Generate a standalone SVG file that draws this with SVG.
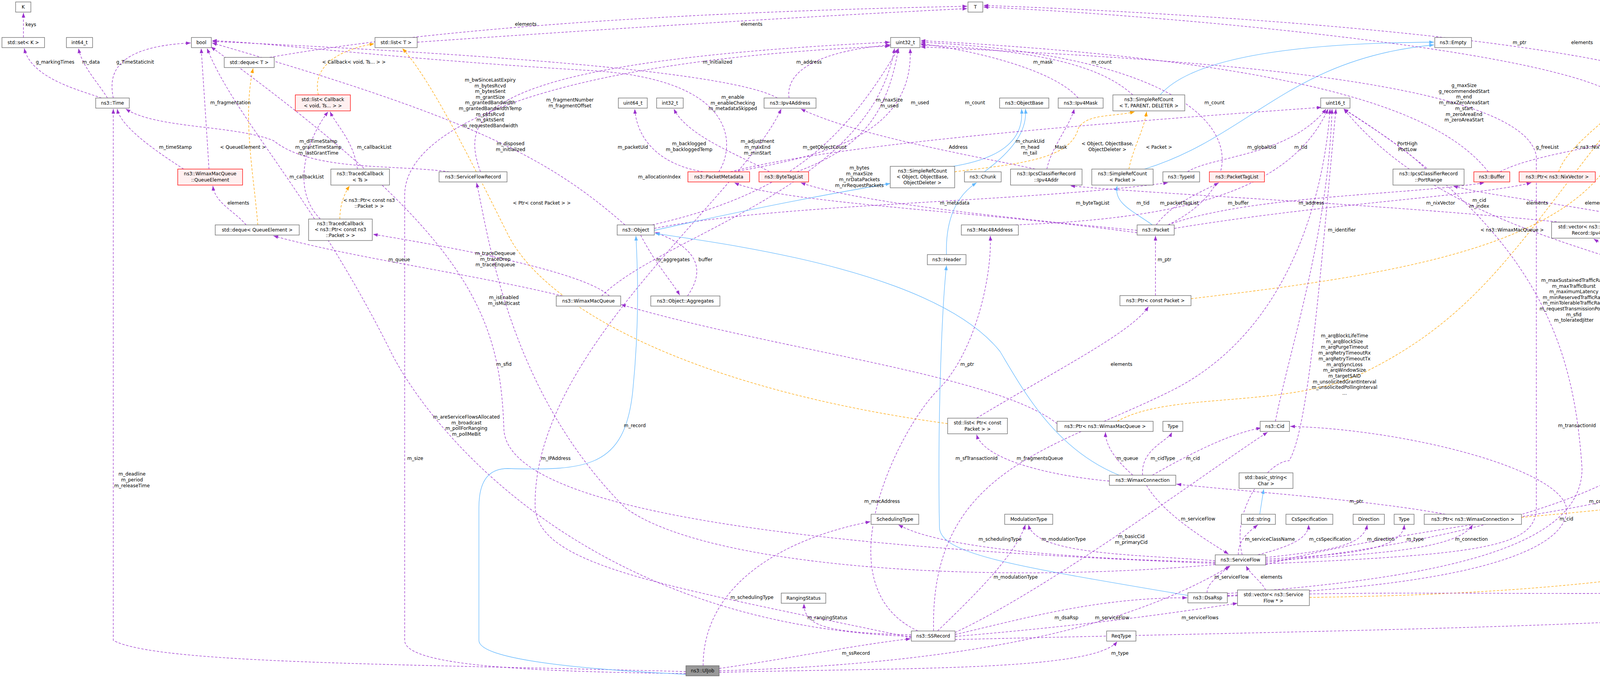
<svg xmlns="http://www.w3.org/2000/svg" width="5153" height="1739" viewBox="0 0 5153 1739">
<style>
text{font-family:"DejaVu Sans","Liberation Sans",sans-serif;font-size:12px;fill:#000;text-anchor:middle}
.node rect{fill:#fff;stroke:#666;stroke-width:1.3}
.red rect{fill:#fff0f0;stroke:#f00}
.grey rect{fill:#999;stroke:#666}
.p{fill:none;stroke:#9a32cd;stroke-width:1.3;stroke-dasharray:6,4;marker-end:url(#ap)}
.o{fill:none;stroke:orange;stroke-width:1.3;stroke-dasharray:6,4;marker-end:url(#ao)}
.b{fill:none;stroke:#63b8ff;stroke-width:1.3;marker-end:url(#ab)}
</style>
<defs>
<marker id="ap" markerUnits="userSpaceOnUse" markerWidth="12" markerHeight="9" refX="12" refY="4.5" orient="auto"><path d="M0,0 L12,4.5 L0,9 z" fill="#9a32cd"/></marker>
<marker id="ao" markerUnits="userSpaceOnUse" markerWidth="12" markerHeight="9" refX="12" refY="4.5" orient="auto"><path d="M0,0 L12,4.5 L0,9 z" fill="orange"/></marker>
<marker id="ab" markerUnits="userSpaceOnUse" markerWidth="12" markerHeight="9" refX="12" refY="4.5" orient="auto"><path d="M0,0 L12,4.5 L0,9 z" fill="#63b8ff"/></marker>
</defs>
<rect width="5153" height="1739" fill="#fff"/>
<g id="edges">
<path class="p" d="M60,96 L60,33"/>
<path class="p" d="M260,251 C200,230 80,200 62,124"/>
<path class="p" d="M275,251 C250,210 210,170 201,124"/>
<path class="p" d="M290,251 C280,200 280,120 488,110"/>
<path class="p" d="M690,147 Q1300,40 2476,16"/>
<path class="p" d="M1068,108 Q1900,50 2476,22"/>
<path class="p" d="M470,433 C420,400 310,330 300,279"/>
<path class="p" d="M535,433 C530,350 520,200 515,124"/>
<path class="p" d="M630,576 C600,540 550,520 545,476"/>
<path class="o" d="M660,576 C650,450 620,300 648,175"/>
<path class="o" d="M815,243 C800,180 850,130 958,112"/>
<path class="p" d="M915,433 C905,360 860,320 845,286"/>
<path class="p" d="M820,561 C740,480 790,350 840,286"/>
<path class="o" d="M870,561 C870,520 885,490 895,476"/>
<path class="p" d="M1150,440 C1000,420 800,440 700,360 C600,320 400,330 322,279"/>
<path class="p" d="M1230,440 C1180,300 1200,160 2278,108"/>
<path class="p" d="M1560,758 C1500,700 1200,640 955,600"/>
<path class="p" d="M1440,758 C1200,700 900,660 700,604"/>
<path class="p" d="M1540,758 C1700,600 2230,480 2290,124"/>
<path class="p" d="M1600,576 C1400,400 1200,300 543,110"/>
<path class="p" d="M1640,602 C1680,680 1720,720 1740,756"/>
<path class="p" d="M1760,758 C1800,700 1800,640 1677,595"/>
<path class="p" d="M1675,585 C2000,520 2600,520 2990,468"/>
<path class="p" d="M3040,440 C3100,400 3300,400 3395,279"/>
<path class="p" d="M1670,576 C2000,500 2150,380 2300,124"/>
<path class="b" d="M1675,590 C1900,540 2100,500 2279,470"/>
<path class="o" d="M2444,440 C2600,420 2740,410 2760,330 C2780,290 2850,300 2905,286"/>
<path class="b" d="M2440,426 C2600,400 2620,330 2615,279"/>
<path class="b" d="M2970,243 C3050,150 3300,110 3671,108"/>
<path class="b" d="M2930,433 C3200,350 3300,150 3671,115"/>
<path class="o" d="M2890,433 C2900,380 2930,330 2935,286"/>
<path class="p" d="M2900,243 C2830,180 2700,130 2357,115"/>
<path class="b" d="M2950,576 C2900,540 2850,520 2860,476"/>
<path class="p" d="M2911,590 C2600,560 2200,520 2050,468"/>
<path class="p" d="M2960,576 C3000,520 3080,490 3120,468"/>
<path class="p" d="M2990,576 C3200,500 3600,500 3800,468"/>
<path class="p" d="M2911,596 C2500,540 2000,520 1880,468"/>
<path class="p" d="M3006,585 C3400,520 3800,500 3920,468"/>
<path class="p" d="M2990,576 C3250,450 3200,150 2357,108"/>
<path class="p" d="M2600,576 C3000,560 3300,500 3400,279"/>
<path class="b" d="M2520,440 C2600,380 2630,330 2625,279"/>
<path class="b" d="M2423,652 C2420,560 2450,500 2500,468"/>
<path class="p" d="M1870,440 C2100,380 2600,330 3383,275"/>
<path class="p" d="M1800,440 C1680,420 1630,350 1625,279"/>
<path class="p" d="M1840,440 C1880,380 1900,200 1500,180 C1000,150 700,110 543,104"/>
<path class="p" d="M1880,440 C2100,400 2340,350 2330,124"/>
<path class="p" d="M1970,440 C1900,400 1760,350 1725,279"/>
<path class="p" d="M2650,433 C2500,400 2200,350 2050,279"/>
<path class="p" d="M2040,440 C2200,380 2270,300 2300,124"/>
<path class="p" d="M2020,251 C2010,180 2100,130 2280,115"/>
<path class="p" d="M1990,251 C1900,200 1500,150 543,106"/>
<path class="p" d="M2760,251 C2700,180 2500,130 2357,112"/>
<path class="p" d="M2680,433 C2690,380 2740,320 2750,279"/>
<path class="p" d="M3650,433 C3600,380 3500,320 3440,279"/>
<path class="p" d="M3810,440 C3700,300 3400,160 2357,104"/>
<path class="p" d="M3840,440 C3950,380 4280,360 4390,279"/>
<path class="o" d="M3990,440 C4010,380 4100,320 4135,279"/>
<path class="p" d="M4150,251 C4000,130 3000,40 2518,18"/>
<path class="p" d="M4390,251 C4200,100 3000,30 2518,14"/>
<path class="o" d="M3049,765 C3600,700 4140,620 4165,279"/>
<path class="p" d="M2958,757 L2958,604"/>
<path class="p" d="M2500,1071 C2700,950 2900,850 2940,785"/>
<path class="o" d="M2426,1085 C1800,1000 1400,800 1300,600 C1200,400 1100,200 1030,124"/>
<path class="p" d="M3995,569 C3500,520 3000,500 2740,476"/>
<path class="o" d="M4150,569 C4290,500 4375,400 4395,279"/>
<path class="p" d="M4240,569 C4000,520 3800,500 3720,476"/>
<path class="o" d="M4380,569 C4480,450 4450,350 4430,279"/>
<path class="p" d="M4830,576 C4800,540 4760,500 4760,468"/>
<path class="o" d="M4840,576 C4850,400 4680,300 4481,285"/>
<path class="p" d="M4370,758 C4280,700 4140,650 4080,612"/>
<path class="p" d="M4390,758 L4335,612"/>
<path class="p" d="M4430,758 C4580,700 4770,650 4830,604"/>
<path class="p" d="M4410,758 C4540,680 4680,560 4740,468"/>
<path class="p" d="M4380,758 C4200,650 3700,600 3440,279"/>
<path class="p" d="M4265,1079 C4210,1000 4210,880 4245,785"/>
<path class="p" d="M4305,1079 C4390,1020 4395,900 4396,785"/>
<path class="o" d="M2860,1079 C3000,1000 3300,1050 3500,950 C3800,800 3900,600 4160,279"/>
<path class="p" d="M2706,1085 C2550,960 2000,900 1590,780"/>
<path class="o" d="M3895,1325 C4400,1280 4680,1250 4780,1000 C4830,800 4920,700 4930,600 C4930,400 4300,330 4228,272"/>
<path class="o" d="M3352,1530 C4200,1520 4780,1420 4980,1200 C5080,1000 5080,700 5030,600 C4980,450 4680,340 4481,281"/>
<path class="p" d="M3700,1317 C3500,1280 3200,1260 3012,1240"/>
<path class="p" d="M3240,1511 C3230,1490 3200,1470 3190,1449"/>
<path class="p" d="M2900,1217 C2870,1190 2830,1150 2830,1107"/>
<path class="p" d="M2925,1217 C2920,1150 2990,1130 3000,1107"/>
<path class="p" d="M2950,1217 C3050,1160 3150,1110 3228,1096"/>
<path class="p" d="M2840,1232 C2700,1220 2520,1180 2500,1113"/>
<path class="p" d="M2935,1243 C2980,1320 3100,1390 3145,1419"/>
<path class="b" d="M2865,1217 C2700,1150 2620,1000 2560,900 C2400,700 1900,630 1677,598"/>
<path class="p" d="M3265,1079 C3300,900 3400,600 3410,279"/>
<path class="p" d="M3170,1421 C3170,1380 3200,1360 3220,1344"/>
<path class="p" d="M3220,1421 C3300,1400 3350,1380 3350,1344"/>
<path class="p" d="M3240,1428 C3400,1410 3490,1400 3500,1344"/>
<path class="p" d="M3240,1432 C3450,1420 3590,1410 3595,1344"/>
<path class="p" d="M3240,1436 C3500,1420 3730,1410 3770,1344"/>
<path class="p" d="M3111,1436 C2900,1420 2650,1420 2633,1344"/>
<path class="p" d="M3111,1440 C2700,1430 2400,1400 2300,1344"/>
<path class="p" d="M3240,1440 C3800,1380 4190,1250 4285,1106"/>
<path class="p" d="M3240,1444 C3800,1420 3933,1400 3933,1300 L3933,400 C3900,200 3000,150 2357,120"/>
<path class="p" d="M3240,1446 C3800,1300 4430,1320 4530,1050 C4600,900 4540,700 4735,468"/>
<path class="p" d="M3180,1421 C3150,1300 3250,1180 3300,1180 C3350,1100 3380,700 3420,279"/>
<path class="p" d="M3142,1525 C3800,1500 4020,1400 4010,1300 C3990,1200 3600,1100 3303,1092"/>
<path class="b" d="M3225,1317 L3235,1253"/>
<path class="p" d="M3090,1518 C3090,1490 3130,1470 3145,1449"/>
<path class="p" d="M3142,1520 C3700,1480 4050,1400 4050,1200 C4030,900 3950,600 3440,279"/>
<path class="p" d="M3142,1527 C3800,1500 4680,1560 4717,1450 L4717,700 C4717,600 4740,520 4745,468"/>
<path class="b" d="M3041,1525 C2600,1450 2405,1420 2405,1350 C2400,1100 2410,800 2423,680"/>
<path class="p" d="M2445,1620 C2700,1500 3100,1200 3245,1107"/>
<path class="p" d="M2400,1616 C2500,1520 2600,1420 2625,1344"/>
<path class="p" d="M2333,1626 C2100,1620 2060,1600 2058,1546"/>
<path class="p" d="M2350,1616 C2100,1500 2300,1100 2400,1000 C2500,900 2540,700 2535,604"/>
<path class="p" d="M2445,1630 C2800,1600 3000,1570 3168,1545"/>
<path class="p" d="M2445,1625 C2600,1590 2800,1530 3039,1531"/>
<path class="p" d="M2333,1630 C1500,1600 1100,1100 1000,900 C800,500 600,300 530,124"/>
<path class="p" d="M2333,1633 C1700,1500 1380,1450 1370,1300 C1360,900 1900,500 2000,279"/>
<path class="p" d="M2390,1616 C2380,1200 2700,1150 3000,1000 C3300,850 3390,500 3405,279"/>
<path class="p" d="M2445,1638 C3600,1610 4819,1600 4819,1500 L4819,1300 C4819,1000 4770,700 4765,468"/>
<path class="p" d="M3111,1446 C2500,1500 1800,1450 1600,1300 C1300,1000 1250,600 1220,468"/>
<path class="p" d="M3111,1443 C2000,1400 1300,1300 1290,1100 C1280,800 1200,600 540,120"/>
<path class="p" d="M1841,1712 C2000,1690 2200,1650 2331,1636"/>
<path class="p" d="M1800,1705 C1800,1500 2000,1380 2228,1336"/>
<path class="p" d="M1841,1718 C2500,1700 2900,1600 3150,1449"/>
<path class="p" d="M1841,1722 C2300,1710 2800,1720 2860,1643"/>
<path class="p" d="M1756,1720 C1000,1700 400,1700 290,1640 L290,279"/>
<path class="p" d="M1756,1725 C1300,1720 1036,1700 1036,1640 L1036,500 C1036,300 1500,150 2278,118"/>
<path class="b" d="M1756,1727 C1400,1710 1226,1680 1226,1640 L1226,1300 C1226,1220 1260,1200 1300,1200 C1500,1205 1600,1200 1620,1000 C1640,800 1630,650 1628,604"/>
</g>
<g id="labels">
<text x="79" y="67">keys</text>
<text x="141" y="163">g_markingTimes</text>
<text x="233" y="163">m_data</text>
<text x="346" y="163">g_TimeStaticInit</text>
<text x="1346" y="66">elements</text>
<text x="1924" y="66">elements</text>
<text x="906" y="163">&lt; Callback&lt; void, Ts... &gt; &gt;</text>
<text x="590" y="267">m_fragmentation</text>
<text x="449" y="381">m_timeStamp</text>
<text x="622" y="381">&lt; QueueElement &gt;</text>
<text x="815" y="366">m_dlTimeStamp<tspan x="815" dy="15">m_grantTimeStamp</tspan><tspan x="815" dy="15">m_lastGrantTime</tspan></text>
<text x="958" y="381">m_callbackList</text>
<text x="785" y="457">m_callbackList</text>
<text x="610" y="524">elements</text>
<text x="945" y="517">&lt; ns3::Ptr&lt; const ns3<tspan x="945" dy="15">::Packet &gt; &gt;</tspan></text>
<text x="1255" y="209">m_bwSinceLastExpiry<tspan x="1255" dy="14.6">m_bytesRcvd</tspan><tspan x="1255" dy="14.6">m_bytesSent</tspan><tspan x="1255" dy="14.6">m_grantSize</tspan><tspan x="1255" dy="14.6">m_grantedBandwidth</tspan><tspan x="1255" dy="14.6">m_grantedBandwidthTemp</tspan><tspan x="1255" dy="14.6">m_pktsRcvd</tspan><tspan x="1255" dy="14.6">m_pktsSent</tspan><tspan x="1255" dy="14.6">m_requestedBandwidth</tspan></text>
<text x="1307" y="372">m_disposed<tspan x="1307" dy="15">m_initialized</tspan></text>
<text x="1837" y="163">m_initialized</text>
<text x="2071" y="163">m_address</text>
<text x="1459" y="260">m_fragmentNumber<tspan x="1459" dy="15">m_fragmentOffset</tspan></text>
<text x="1876" y="253">m_enable<tspan x="1876" dy="14.5">m_enableChecking</tspan><tspan x="1876" dy="14.5">m_metadataSkipped</tspan></text>
<text x="2277" y="260">m_maxSize<tspan x="2277" dy="15">m_used</tspan></text>
<text x="2355" y="267">m_used</text>
<text x="2496" y="267">m_count</text>
<text x="1620" y="381">m_packetUid</text>
<text x="1764" y="372">m_backlogged<tspan x="1764" dy="15">m_backloggedTemp</tspan></text>
<text x="1939" y="366">m_adjustment<tspan x="1939" dy="15">m_maxEnd</tspan><tspan x="1939" dy="15">m_minStart</tspan></text>
<text x="2111" y="381">m_getObjectCount</text>
<text x="2453" y="381">Address</text>
<text x="1688" y="457">m_allocationIndex</text>
<text x="2200" y="434">m_bytes<tspan x="2200" dy="15">m_maxSize</tspan><tspan x="2200" dy="15">m_nrDataPackets</tspan><tspan x="2200" dy="15">m_nrRequestPackets</tspan></text>
<text x="1387" y="524">&lt; Ptr&lt; const Packet &gt; &gt;</text>
<text x="2444" y="524">m_metadata</text>
<text x="2670" y="163">m_mask</text>
<text x="2820" y="163">m_count</text>
<text x="3109" y="267">m_count</text>
<text x="3748" y="223">g_maxSize<tspan x="3748" dy="14.7">g_recommendedStart</tspan><tspan x="3748" dy="14.7">m_end</tspan><tspan x="3748" dy="14.7">m_maxZeroAreaStart</tspan><tspan x="3748" dy="14.7">m_start</tspan><tspan x="3748" dy="14.7">m_zeroAreaEnd</tspan><tspan x="3748" dy="14.7">m_zeroAreaStart</tspan></text>
<text x="3890" y="113">m_ptr</text>
<text x="4050" y="113">elements</text>
<text x="2637" y="366">m_chunkUid<tspan x="2637" dy="15">m_head</tspan><tspan x="2637" dy="15">m_tail</tspan></text>
<text x="2716" y="381">Mask</text>
<text x="2835" y="372">&lt; Object, ObjectBase,<tspan x="2835" dy="15">ObjectDeleter &gt;</tspan></text>
<text x="2967" y="381">&lt; Packet &gt;</text>
<text x="3230" y="381">m_globalUid</text>
<text x="3330" y="381">m_tid</text>
<text x="3603" y="372">PortHigh<tspan x="3603" dy="15">PortLow</tspan></text>
<text x="2797" y="524">m_byteTagList</text>
<text x="2926" y="524">m_tid</text>
<text x="3019" y="524">m_packetTagList</text>
<text x="3170" y="524">m_buffer</text>
<text x="3357" y="524">m_address</text>
<text x="3688" y="524">m_nixVector</text>
<text x="3787" y="517">m_cid<tspan x="3787" dy="15">m_index</tspan></text>
<text x="3435" y="593">m_identifier</text>
<text x="3871" y="593">&lt; ns3::WimaxMacQueue &gt;</text>
<text x="3961" y="381">g_freeList</text>
<text x="4089" y="381">&lt; ns3::NixVector &gt;</text>
<text x="4376" y="449">&lt; ns3::IpcsClassifierRecord<tspan x="4376" dy="15">::Ipv4Addr &gt;</tspan></text>
<text x="4575" y="449">&lt; ns3::IpcsClassifierRecord<tspan x="4575" dy="15">::PortRange &gt;</tspan></text>
<text x="4867" y="457">&lt; uint8_t &gt;</text>
<text x="3935" y="524">elements</text>
<text x="4085" y="524">elements</text>
<text x="4202" y="524">&lt; const Packet &gt;</text>
<text x="4787" y="524">elements</text>
<text x="4595" y="570">m_priority<tspan x="4595" dy="14.7">m_tosHigh</tspan><tspan x="4595" dy="14.7">m_tosLow</tspan><tspan x="4595" dy="14.7">m_tosMask</tspan></text>
<text x="4288" y="660">m_dstAddr<tspan x="4288" dy="15">m_srcAddr</tspan></text>
<text x="4421" y="660">m_dstPortRange<tspan x="4421" dy="15">m_srcPortRange</tspan></text>
<text x="4741" y="669">m_protocol</text>
<text x="4029" y="722">m_maxSustainedTrafficRate<tspan x="4029" dy="14.6">m_maxTrafficBurst</tspan><tspan x="4029" dy="14.6">m_maximumLatency</tspan><tspan x="4029" dy="14.6">m_minReservedTrafficRate</tspan><tspan x="4029" dy="14.6">m_minTolerableTrafficRate</tspan><tspan x="4029" dy="14.6">m_requestTransmissionPolicy</tspan><tspan x="4029" dy="14.6">m_sfid</tspan><tspan x="4029" dy="14.6">m_toleratedJitter</tspan></text>
<text x="4891" y="773">&lt; ns3::WimaxConnection &gt;</text>
<text x="4296" y="937">m_classifierDscAction</text>
<text x="4472" y="937">m_packetClassifierRule</text>
<text x="4037" y="1094">m_transactionId</text>
<text x="5066" y="1094">&lt; ns3::ServiceFlow * &gt;</text>
<text x="4611" y="1050">m_arqDeliverInOrder<tspan x="4611" dy="14.7">m_arqEnable</tspan><tspan x="4611" dy="14.7">m_fixedversusVariableSdu</tspan><tspan x="4611" dy="14.7">Indicator</tspan><tspan x="4611" dy="14.7">m_qosParamSetType</tspan><tspan x="4611" dy="14.7">m_sduSize</tspan><tspan x="4611" dy="14.7">m_trafficPriority</tspan></text>
<text x="4789" y="1178">m_confirmationCode</text>
<text x="4834" y="1218">m_dsaRspRetries<tspan x="4834" dy="15">m_invitedRangingRetries</tspan><tspan x="4834" dy="15">m_rangingCorrectionRetries</tspan></text>
<text x="4161" y="1288">m_convergenceSublayerParam</text>
<text x="4010" y="1333">m_cid</text>
<text x="2981" y="669">m_ptr</text>
<text x="2871" y="937">elements</text>
<text x="3442" y="864">m_arqBlockLifeTime<tspan x="3442" dy="14.7">m_arqBlockSize</tspan><tspan x="3442" dy="14.7">m_arqPurgeTimeout</tspan><tspan x="3442" dy="14.7">m_arqRetryTimeoutRx</tspan><tspan x="3442" dy="14.7">m_arqRetryTimeoutTx</tspan><tspan x="3442" dy="14.7">m_arqSyncLoss</tspan><tspan x="3442" dy="14.7">m_arqWindowSize</tspan><tspan x="3442" dy="14.7">m_targetSAID</tspan><tspan x="3442" dy="14.7">m_unsolicitedGrantInterval</tspan><tspan x="3442" dy="14.7">m_unsolicitedPollingInterval</tspan><tspan x="3442" dy="14.7">...</tspan></text>
<text x="2662" y="1178">m_fragmentsQueue</text>
<text x="2886" y="1178">m_queue</text>
<text x="2977" y="1178">m_cidType</text>
<text x="3054" y="1178">m_cid</text>
<text x="3472" y="1288">m_ptr</text>
<text x="3067" y="1333">m_serviceFlow</text>
<text x="2896" y="1378">m_basicCid<tspan x="2896" dy="15">m_primaryCid</tspan></text>
<text x="2723" y="1385">m_modulationType</text>
<text x="3251" y="1385">m_serviceClassName</text>
<text x="3405" y="1385">m_csSpecification</text>
<text x="3535" y="1385">m_direction</text>
<text x="3623" y="1385">m_type</text>
<text x="3767" y="1385">m_connection</text>
<text x="2560" y="1385">m_schedulingType</text>
<text x="3153" y="1482">m_serviceFlow</text>
<text x="3255" y="1482">elements</text>
<text x="2600" y="1482">m_modulationType</text>
<text x="2730" y="1586">m_dsaRsp</text>
<text x="2847" y="1586">m_serviceFlow</text>
<text x="3072" y="1586">m_serviceFlows</text>
<text x="2867" y="1677">m_type</text>
<text x="1723" y="669">m_aggregates</text>
<text x="1806" y="669">buffer</text>
<text x="2476" y="937">m_ptr</text>
<text x="1625" y="1094">m_record</text>
<text x="1423" y="1178">m_IPAddress</text>
<text x="2500" y="1178">m_sfTransactionId</text>
<text x="2258" y="1288">m_macAddress</text>
<text x="1925" y="1534">m_schedulingType</text>
<text x="2118" y="1586">m_rangingStatus</text>
<text x="2191" y="1677">m_ssRecord</text>
<text x="1268" y="653">m_traceDequeue<tspan x="1268" dy="14.5">m_traceDrop</tspan><tspan x="1268" dy="14.5">m_traceEnqueue</tspan></text>
<text x="1290" y="766">m_isEnabled<tspan x="1290" dy="14.5">m_isMulticast</tspan></text>
<text x="1290" y="937">m_sfid</text>
<text x="1022" y="669">m_queue</text>
<text x="1194" y="1072">m_areServiceFlowsAllocated<tspan x="1194" dy="14.7">m_broadcast</tspan><tspan x="1194" dy="14.7">m_pollForRanging</tspan><tspan x="1194" dy="14.7">m_pollMeBit</tspan></text>
<text x="1063" y="1178">m_size</text>
<text x="338" y="1218">m_deadline<tspan x="338" dy="15">m_period</tspan><tspan x="338" dy="15">m_releaseTime</tspan></text>
</g>
<g id="n_K" class="node"><rect x="40" y="5" width="39" height="26"/><text x="59.5" y="22">K</text></g>
<g id="n_set" class="node"><rect x="5" y="96" width="109" height="26"/><text x="59.5" y="113">std::set&lt; K &gt;</text></g>
<g id="n_int64" class="node"><rect x="170" y="96" width="67" height="26"/><text x="203.5" y="113">int64_t</text></g>
<g id="n_bool" class="node"><rect x="490" y="96" width="51" height="26"/><text x="515.5" y="113">bool</text></g>
<g id="n_listT" class="node"><rect x="960" y="96" width="108" height="26"/><text x="1014" y="113">std::list&lt; T &gt;</text></g>
<g id="n_dequeT" class="node"><rect x="574" y="147" width="128" height="26"/><text x="638" y="164">std::deque&lt; T &gt;</text></g>
<g id="n_Time" class="node"><rect x="245" y="251" width="86" height="26"/><text x="288" y="268">ns3::Time</text></g>
<g id="n_listCb" class="node red"><rect x="756" y="243" width="141" height="41"/><text x="826.5" y="259">std::list&lt; Callback</text><text x="826.5" y="275">&lt; void, Ts... &gt; &gt;</text></g>
<g id="n_QE" class="node red"><rect x="455" y="433" width="166" height="41"/><text x="538" y="449">ns3::WimaxMacQueue</text><text x="538" y="465">::QueueElement</text></g>
<g id="n_TCTs" class="node"><rect x="847" y="433" width="150" height="41"/><text x="922" y="449">ns3::TracedCallback</text><text x="922" y="465">&lt; Ts &gt;</text></g>
<g id="n_SFR" class="node"><rect x="1124" y="440" width="174" height="26"/><text x="1211" y="457">ns3::ServiceFlowRecord</text></g>
<g id="n_dequeQE" class="node"><rect x="551" y="576" width="215" height="26"/><text x="658.5" y="593">std::deque&lt; QueueElement &gt;</text></g>
<g id="n_TCPtr" class="node"><rect x="790" y="561" width="163" height="55"/><text x="871.5" y="577">ns3::TracedCallback</text><text x="871.5" y="592">&lt; ns3::Ptr&lt; const ns3</text><text x="871.5" y="607">::Packet &gt; &gt;</text></g>
<g id="n_T" class="node"><rect x="2478" y="5" width="38" height="26"/><text x="2497" y="22">T</text></g>
<g id="n_uint32" class="node"><rect x="2280" y="96" width="75" height="26"/><text x="2317.5" y="113">uint32_t</text></g>
<g id="n_uint64" class="node"><rect x="1583" y="251" width="74" height="26"/><text x="1620" y="268">uint64_t</text></g>
<g id="n_int32" class="node"><rect x="1681" y="251" width="68" height="26"/><text x="1715" y="268">int32_t</text></g>
<g id="n_Ipv4Address" class="node"><rect x="1956" y="251" width="133" height="26"/><text x="2022.5" y="268">ns3::Ipv4Address</text></g>
<g id="n_ObjectBase" class="node"><rect x="2559" y="251" width="126" height="26"/><text x="2622" y="268">ns3::ObjectBase</text></g>
<g id="n_Ipv4Mask" class="node"><rect x="2709" y="251" width="115" height="26"/><text x="2766.5" y="268">ns3::Ipv4Mask</text></g>
<g id="n_SRCT" class="node"><rect x="2849" y="243" width="184" height="41"/><text x="2941" y="259">ns3::SimpleRefCount</text><text x="2941" y="275">&lt; T, PARENT, DELETER &gt;</text></g>
<g id="n_uint16" class="node"><rect x="3381" y="251" width="75" height="26"/><text x="3418.5" y="268">uint16_t</text></g>
<g id="n_Empty" class="node"><rect x="3673" y="96" width="94" height="26"/><text x="3720" y="113">ns3::Empty</text></g>
<g id="n_PtrT" class="node"><rect x="4117" y="251" width="109" height="26"/><text x="4171.5" y="268">ns3::Ptr&lt; T &gt;</text></g>
<g id="n_vectorT" class="node"><rect x="4350" y="251" width="129" height="26"/><text x="4414.5" y="268">std::vector&lt; T &gt;</text></g>
<g id="n_PacketMetadata" class="node red"><rect x="1761" y="440" width="158" height="26"/><text x="1840" y="457">ns3::PacketMetadata</text></g>
<g id="n_ByteTagList" class="node red"><rect x="1943" y="440" width="127" height="26"/><text x="2006.5" y="457">ns3::ByteTagList</text></g>
<g id="n_SRCObj" class="node"><rect x="2279" y="426" width="165" height="55"/><text x="2361.5" y="442">ns3::SimpleRefCount</text><text x="2361.5" y="457">&lt; Object, ObjectBase,</text><text x="2361.5" y="472">ObjectDeleter &gt;</text></g>
<g id="n_Chunk" class="node"><rect x="2469" y="440" width="94" height="26"/><text x="2516" y="457">ns3::Chunk</text></g>
<g id="n_Ipv4Addr" class="node"><rect x="2587" y="433" width="183" height="41"/><text x="2678.5" y="449">ns3::IpcsClassifierRecord</text><text x="2678.5" y="465">::Ipv4Addr</text></g>
<g id="n_SRCPkt" class="node"><rect x="2795" y="433" width="157" height="41"/><text x="2873.5" y="449">ns3::SimpleRefCount</text><text x="2873.5" y="465">&lt; Packet &gt;</text></g>
<g id="n_TypeId" class="node"><rect x="2977" y="440" width="94" height="26"/><text x="3024" y="457">ns3::TypeId</text></g>
<g id="n_PacketTagList" class="node red"><rect x="3096" y="440" width="141" height="26"/><text x="3166.5" y="457">ns3::PacketTagList</text></g>
<g id="n_PortRange" class="node"><rect x="3566" y="433" width="182" height="41"/><text x="3657" y="449">ns3::IpcsClassifierRecord</text><text x="3657" y="465">::PortRange</text></g>
<g id="n_Buffer" class="node red"><rect x="3773" y="440" width="92" height="26"/><text x="3819" y="457">ns3::Buffer</text></g>
<g id="n_PtrNix" class="node red"><rect x="3889" y="440" width="195" height="26"/><text x="3986.5" y="457">ns3::Ptr&lt; ns3::NixVector &gt;</text></g>
<g id="n_uint8" class="node"><rect x="4719" y="440" width="67" height="26"/><text x="4752.5" y="457">uint8_t</text></g>
<g id="n_Object" class="node"><rect x="1580" y="576" width="95" height="26"/><text x="1627.5" y="593">ns3::Object</text></g>
<g id="n_Mac48" class="node"><rect x="2461" y="576" width="146" height="26"/><text x="2534" y="593">ns3::Mac48Address</text></g>
<g id="n_Packet" class="node"><rect x="2911" y="576" width="95" height="26"/><text x="2958.5" y="593">ns3::Packet</text></g>
<g id="n_vecIpv4" class="node"><rect x="3972" y="569" width="221" height="41"/><text x="4082.5" y="585">std::vector&lt; ns3::IpcsClassifier</text><text x="4082.5" y="601">Record::Ipv4Addr &gt;</text></g>
<g id="n_vecPort" class="node"><rect x="4218" y="569" width="222" height="41"/><text x="4329" y="585">std::vector&lt; ns3::IpcsClassifier</text><text x="4329" y="601">Record::PortRange &gt;</text></g>
<g id="n_vecU8" class="node"><rect x="4747" y="576" width="165" height="26"/><text x="4829.5" y="593">std::vector&lt; uint8_t &gt;</text></g>
<g id="n_Header" class="node"><rect x="2374" y="652" width="99" height="26"/><text x="2423.5" y="669">ns3::Header</text></g>
<g id="n_WMQ" class="node"><rect x="1424" y="758" width="165" height="26"/><text x="1506.5" y="775">ns3::WimaxMacQueue</text></g>
<g id="n_Aggregates" class="node"><rect x="1666" y="758" width="177" height="26"/><text x="1754.5" y="775">ns3::Object::Aggregates</text></g>
<g id="n_PtrCPkt" class="node"><rect x="2867" y="757" width="182" height="26"/><text x="2958" y="774">ns3::Ptr&lt; const Packet &gt;</text></g>
<g id="n_Action" class="node"><rect x="4214" y="758" width="62" height="26"/><text x="4245" y="775">Action</text></g>
<g id="n_IpcsCR" class="node"><rect x="4305" y="758" width="182" height="26"/><text x="4396" y="775">ns3::IpcsClassifierRecord</text></g>
<g id="n_listPtrPkt" class="node"><rect x="2426" y="1071" width="153" height="40"/><text x="2502.5" y="1087">std::list&lt; Ptr&lt; const</text><text x="2502.5" y="1103">Packet &gt; &gt;</text></g>
<g id="n_PtrWMQ" class="node"><rect x="2706" y="1079" width="246" height="26"/><text x="2829" y="1096">ns3::Ptr&lt; ns3::WimaxMacQueue &gt;</text></g>
<g id="n_Type1" class="node"><rect x="2977" y="1079" width="51" height="26"/><text x="3002.5" y="1096">Type</text></g>
<g id="n_Cid" class="node"><rect x="3226" y="1079" width="75" height="26"/><text x="3263.5" y="1096">ns3::Cid</text></g>
<g id="n_CsParameters" class="node"><rect x="4214" y="1079" width="142" height="26"/><text x="4285" y="1096">ns3::CsParameters</text></g>
<g id="n_WimaxConnection" class="node"><rect x="2840" y="1217" width="170" height="26"/><text x="2925" y="1234">ns3::WimaxConnection</text></g>
<g id="n_basicString" class="node"><rect x="3172" y="1211" width="138" height="40"/><text x="3241" y="1227">std::basic_string&lt;</text><text x="3241" y="1243">Char &gt;</text></g>
<g id="n_SchedulingType" class="node"><rect x="2230" y="1317" width="122" height="26"/><text x="2291" y="1334">SchedulingType</text></g>
<g id="n_ModulationType" class="node"><rect x="2572" y="1317" width="123" height="26"/><text x="2633.5" y="1334">ModulationType</text></g>
<g id="n_string" class="node"><rect x="3178" y="1317" width="87" height="26"/><text x="3221.5" y="1334">std::string</text></g>
<g id="n_CsSpec" class="node"><rect x="3292" y="1317" width="120" height="26"/><text x="3352" y="1334">CsSpecification</text></g>
<g id="n_Direction" class="node"><rect x="3464" y="1317" width="80" height="26"/><text x="3504" y="1334">Direction</text></g>
<g id="n_Type2" class="node"><rect x="3569" y="1317" width="51" height="26"/><text x="3594.5" y="1334">Type</text></g>
<g id="n_PtrWC" class="node"><rect x="3646" y="1317" width="249" height="26"/><text x="3770.5" y="1334">ns3::Ptr&lt; ns3::WimaxConnection &gt;</text></g>
<g id="n_ServiceFlow" class="node"><rect x="3111" y="1421" width="129" height="26"/><text x="3175.5" y="1438">ns3::ServiceFlow</text></g>
<g id="n_DsaRsp" class="node"><rect x="3041" y="1518" width="101" height="26"/><text x="3091.5" y="1535">ns3::DsaRsp</text></g>
<g id="n_vecSF" class="node"><rect x="3168" y="1511" width="184" height="40"/><text x="3260" y="1527">std::vector&lt; ns3::Service</text><text x="3260" y="1543">Flow * &gt;</text></g>
<g id="n_RangingStatus" class="node"><rect x="2000" y="1519" width="114" height="26"/><text x="2057" y="1536">RangingStatus</text></g>
<g id="n_SSRecord" class="node"><rect x="2333" y="1616" width="112" height="26"/><text x="2389" y="1633">ns3::SSRecord</text></g>
<g id="n_ReqType" class="node"><rect x="2833" y="1616" width="75" height="26"/><text x="2870.5" y="1633">ReqType</text></g>
<g id="n_UlJob" class="node grey"><rect x="1756" y="1705" width="85" height="26"/><text x="1798.5" y="1722">ns3::UlJob</text></g>
</svg>
